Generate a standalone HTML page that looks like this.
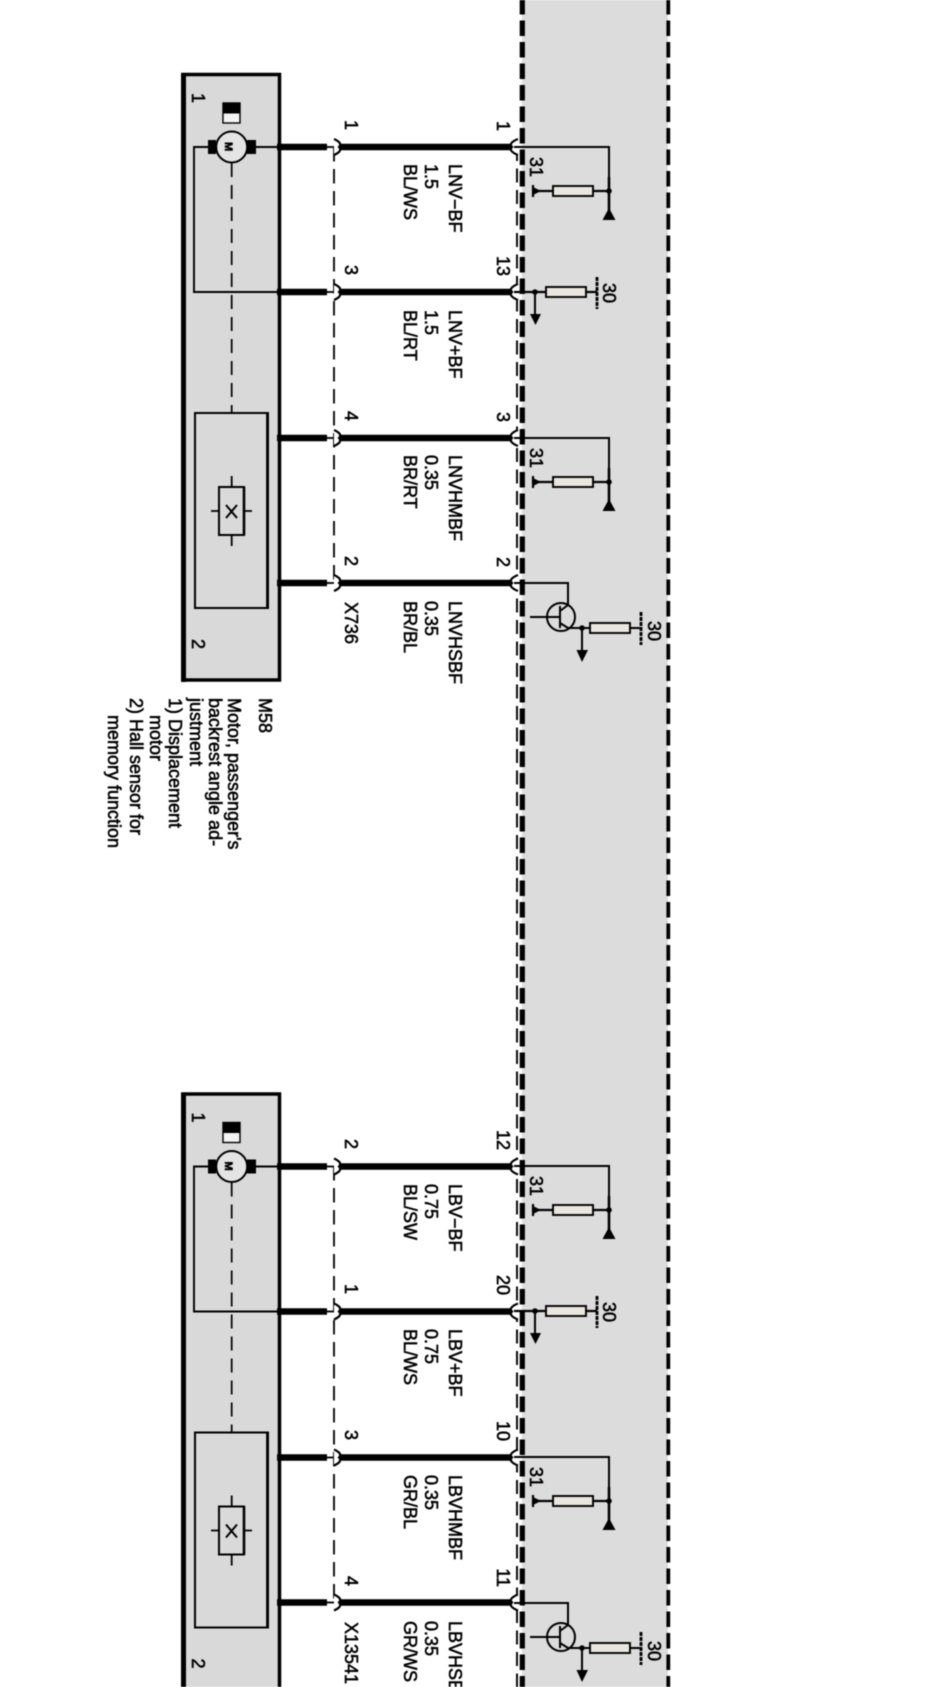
<!DOCTYPE html>
<html><head><meta charset="utf-8"><style>
html,body{margin:0;padding:0;background:#fff;width:931px;height:1687px;overflow:hidden}
svg{display:block;filter:blur(.4px)}
text{font-family:"Liberation Sans",sans-serif;font-size:18px;fill:#000;stroke:#000;stroke-width:.55}
</style></head><body>
<svg xmlns="http://www.w3.org/2000/svg" width="931" height="1687" viewBox="0 0 931 1687">
<defs>
<g id="jump">
<path d="M277 0H327" stroke="#000" stroke-width="6.500" fill="none"/>
<path d="M327 0H335" stroke="#000" stroke-width="1.800" fill="none"/>
<path d="M334 -8Q343 -4 339 0Q343 4 334 8" stroke="#000" stroke-width="2.200" fill="#fff"/>
<path d="M339 0H511" stroke="#000" stroke-width="6.500" fill="none"/>
<path d="M518 -8Q508 -4 512 0Q508 4 518 8Z" stroke="none" fill="#fff"/>
<path d="M518 -8Q508 -4 512 0Q508 4 518 8" stroke="#000" stroke-width="2.200" fill="none"/>
</g>
<g id="gnd" fill="none" stroke="#000">
<path d="M514 0H609V71" stroke-width="2"/>
<path d="M609 30V71" stroke-width="2.600"/>
<path d="M533 44H609" stroke-width="2.200"/>
<path d="M533 38V50" stroke-width="2.200"/>
<path d="M533 40L541 44L533 48Z" fill="#000" stroke="none"/>
<rect x="553" y="39" width="40" height="10" fill="#e8e6de" stroke-width="1.900"/>
<circle cx="609" cy="44" r="2.800" fill="#000" stroke="none"/>
<path d="M609 61L615.500 73H602.500Z" fill="#000" stroke="none"/>
<text transform="translate(530,10) rotate(90)">31</text>
</g>
<g id="pwr" fill="none" stroke="#000">
<path d="M514 0H597" stroke-width="2.200"/>
<path d="M597 -15V17" stroke-width="2.800" stroke-dasharray="4 1"/>
<path d="M535 0V26" stroke-width="2"/>
<rect x="546" y="-5" width="40" height="10" fill="#e8e6de" stroke-width="1.900"/>
<circle cx="535" cy="0" r="2.800" fill="#000" stroke="none"/>
<path d="M530 22H541L535.500 33Z" fill="#000" stroke="none"/>
<text transform="translate(603,-9) rotate(90)">30</text>
</g>
<g id="tr" fill="none" stroke="#000">
<path d="M514 0H568V22L560 28" stroke-width="2"/>
<circle cx="561" cy="34" r="14" stroke-width="2"/>
<path d="M530 34H560M560 23V45" stroke-width="2"/>
<path d="M560 40L568 45H590M630 45H641" stroke-width="2.100"/>
<path d="M641 29V62" stroke-width="2.800" stroke-dasharray="4 1"/>
<path d="M582 45V70" stroke-width="2"/>
<rect x="590" y="40" width="40" height="10" fill="#e8e6de" stroke-width="1.900"/>
<circle cx="582" cy="45" r="2.800" fill="#000" stroke="none"/>
<path d="M576.500 67H588L582 79Z" fill="#000" stroke="none"/>
<text transform="translate(648,38) rotate(90)">30</text>
</g>
<g id="box">
<rect x="183" y="74.500" width="96.500" height="605.500" fill="#d9d9d9" stroke="#000" stroke-width="3.500"/>
<rect x="181" y="73" width="5" height="609" fill="#000"/>
<rect x="195" y="413" width="73" height="195" fill="#d9d9d9" stroke="#000" stroke-width="2"/>
<path d="M267.500 413V608" stroke="#000" stroke-width="2.800" fill="none"/>
<path d="M231.700 163V413" stroke="#000" stroke-width="1.700" stroke-dasharray="14 8" fill="none"/>
<path d="M216 147H194V292H280M247 147H280" stroke="#000" stroke-width="1.900" fill="none"/>
<rect x="208" y="140" width="8" height="14" fill="#000"/>
<rect x="247" y="140" width="9" height="14" fill="#000"/>
<circle cx="231.700" cy="147" r="15.500" fill="#e4e4e4" stroke="#000" stroke-width="2"/>
<text transform="translate(225,142) rotate(90)" style="font-size:11px;font-weight:bold">M</text>
<rect x="223" y="103" width="17" height="20" fill="#f4f4f4" stroke="#000" stroke-width="1.400"/>
<rect x="222.500" y="102.500" width="18" height="11" fill="#000"/>
<rect x="219" y="487" width="25" height="48" fill="#d9d9d9" stroke="#000" stroke-width="2"/>
<path d="M244 487V535" stroke="#000" stroke-width="2.600" fill="none"/>
<path d="M231.700 476V487M231.700 535V546M211 511H219M244 511H252" stroke="#000" stroke-width="1.800" fill="none"/>
<path d="M226 505L237 518M237 505L226 518" stroke="#000" stroke-width="2" fill="none"/>
<text transform="translate(192,93) rotate(90)">1</text>
<text transform="translate(192,639) rotate(90)">2</text>
<use href="#jump" y="147"/><use href="#jump" y="292"/><use href="#jump" y="438"/><use href="#jump" y="583"/>
</g>
</defs>

<rect x="522" y="0" width="146" height="1687" fill="#dcdcdc"/>
<path d="M668.300 -1V1687" stroke="#000" stroke-width="3.800" stroke-dasharray="15.500 6" fill="none"/>
<path d="M517 147V1687" stroke="#000" stroke-width="1.900" stroke-dasharray="14 7.500" fill="none"/>
<path d="M522.300 -1V1687" stroke="#000" stroke-width="5.200" stroke-dasharray="15.500 6" fill="none"/>
<path d="M334 147V583M334 1166V1603" stroke="#000" stroke-width="1.800" stroke-dasharray="14.500 7.500" fill="none"/>

<!-- block 1 -->
<use href="#box"/>
<use href="#gnd" y="147"/><use href="#pwr" y="292"/><use href="#gnd" y="438"/><use href="#tr" y="583"/>

<text transform="translate(345,120) rotate(90)">1</text>
<text transform="translate(345,265) rotate(90)">3</text>
<text transform="translate(345,411) rotate(90)">4</text>
<text transform="translate(345,556) rotate(90)">2</text>
<text transform="translate(345,602) rotate(90)">X736</text>
<text transform="translate(497,131) rotate(90)" text-anchor="end">1</text>
<text transform="translate(497,276) rotate(90)" text-anchor="end">13</text>
<text transform="translate(497,422) rotate(90)" text-anchor="end">3</text>
<text transform="translate(497,567) rotate(90)" text-anchor="end">2</text>

<text transform="translate(449,164) rotate(90)">LNV−BF</text>
<text transform="translate(425,164) rotate(90)">1.5</text>
<text transform="translate(404,164) rotate(90)">BL/WS</text>
<text transform="translate(449,310) rotate(90)">LNV+BF</text>
<text transform="translate(425,310) rotate(90)">1.5</text>
<text transform="translate(404,310) rotate(90)">BL/RT</text>
<text transform="translate(449,455) rotate(90)">LNVHMBF</text>
<text transform="translate(425,455) rotate(90)">0.35</text>
<text transform="translate(404,455) rotate(90)">BR/RT</text>
<text transform="translate(449,601) rotate(90)">LNVHSBF</text>
<text transform="translate(425,601) rotate(90)">0.35</text>
<text transform="translate(404,601) rotate(90)">BR/BL</text>

<text transform="translate(259,698) rotate(90)">M58</text>
<text transform="translate(228,698) rotate(90)">Motor, passenger's</text>
<text transform="translate(209,698) rotate(90)">backrest angle ad-</text>
<text transform="translate(190,698) rotate(90)">justment</text>
<text transform="translate(169,698) rotate(90)">1) Displacement</text>
<text transform="translate(150,715) rotate(90)">motor</text>
<text transform="translate(130,698) rotate(90)">2) Hall sensor for</text>
<text transform="translate(108,715) rotate(90)">memory function</text>

<!-- block 2 -->
<g transform="translate(0,1019.500)"><use href="#box"/></g>
<use href="#gnd" y="1166"/><use href="#pwr" y="1311"/><use href="#gnd" y="1457"/><use href="#tr" y="1603"/>

<text transform="translate(345,1139) rotate(90)">2</text>
<text transform="translate(345,1284) rotate(90)">1</text>
<text transform="translate(345,1430) rotate(90)">3</text>
<text transform="translate(345,1576) rotate(90)">4</text>
<text transform="translate(345,1622) rotate(90)">X13541</text>
<text transform="translate(497,1150) rotate(90)" text-anchor="end">12</text>
<text transform="translate(497,1295) rotate(90)" text-anchor="end">20</text>
<text transform="translate(497,1441) rotate(90)" text-anchor="end">10</text>
<text transform="translate(497,1587) rotate(90)" text-anchor="end">11</text>

<text transform="translate(449,1184) rotate(90)">LBV−BF</text>
<text transform="translate(425,1184) rotate(90)">0.75</text>
<text transform="translate(404,1184) rotate(90)">BL/SW</text>
<text transform="translate(449,1329) rotate(90)">LBV+BF</text>
<text transform="translate(425,1329) rotate(90)">0.75</text>
<text transform="translate(404,1329) rotate(90)">BL/WS</text>
<text transform="translate(449,1475) rotate(90)">LBVHMBF</text>
<text transform="translate(425,1475) rotate(90)">0.35</text>
<text transform="translate(404,1475) rotate(90)">GR/BL</text>
<text transform="translate(449,1621) rotate(90)">LBVHSBF</text>
<text transform="translate(425,1621) rotate(90)">0.35</text>
<text transform="translate(404,1621) rotate(90)">GR/WS</text>
</svg>
</body></html>
